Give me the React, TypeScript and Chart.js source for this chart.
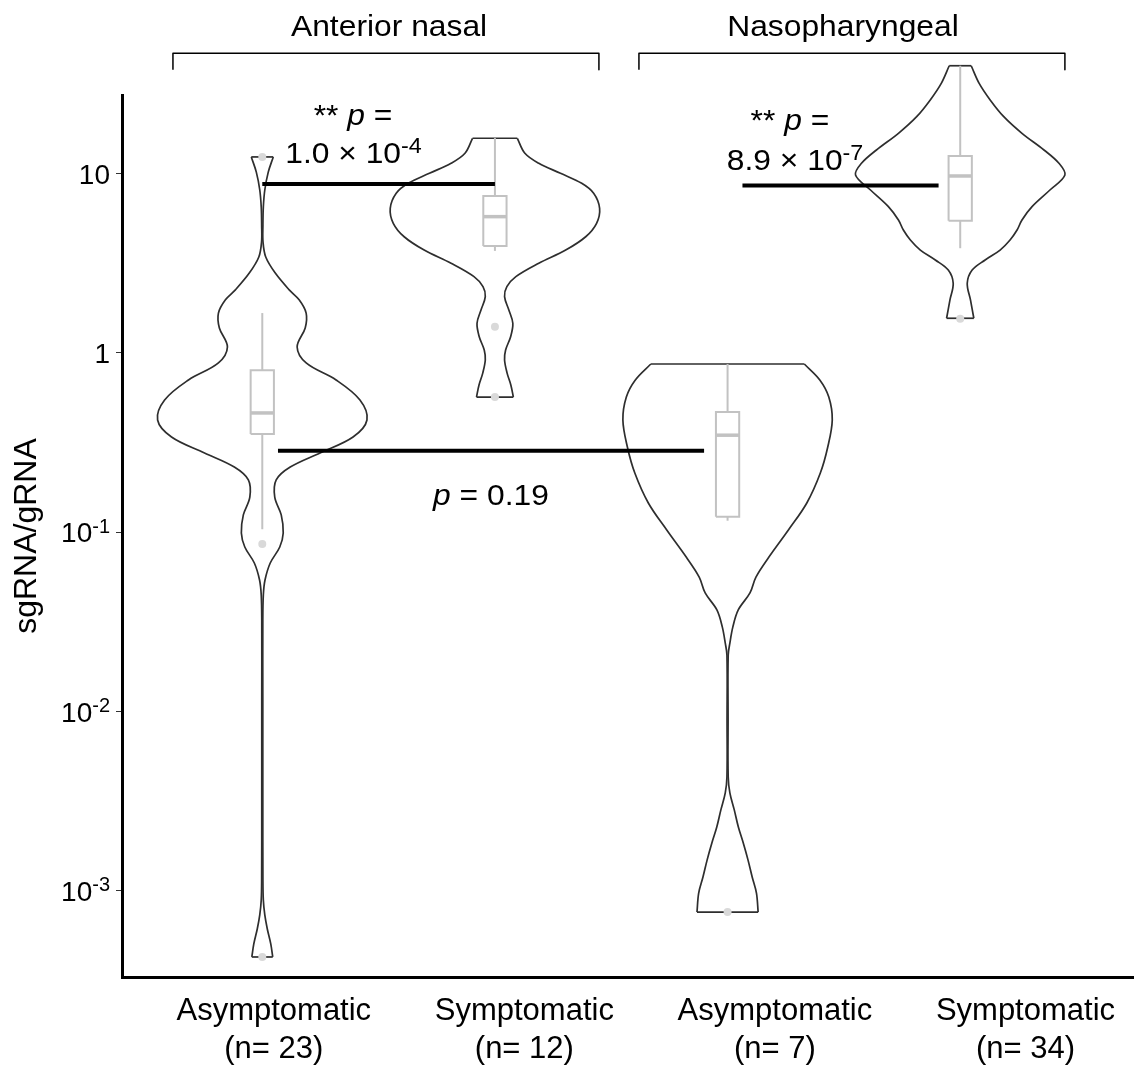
import React, { useEffect, useRef } from 'react';
import { Chart, registerables } from 'chart.js';

Chart.register(...registerables);

// ---------------- data ----------------
const groupCenters = [0, 1, 2, 3];
const groupTickLabels = [
  ['Asymptomatic', '(n= 23)'],
  ['Symptomatic', '(n= 12)'],
  ['Asymptomatic', '(n= 7)'],
  ['Symptomatic', '(n= 34)'],
];
const panelTitles = ['Anterior nasal', 'Nasopharyngeal'];
const yTitle = 'sgRNA/gRNA';

const yTickValues = [0.001, 0.01, 0.1, 1, 10];
const yTickBases = ['10', '10', '10', '1', '10'];
const yTickExponents = ['-3', '-2', '-1', '', ''];

// violin outlines: levels (sgRNA/gRNA) and relative density width (1 = widest)
const anAsymLevels = [12.4, 10.2, 8.11, 6.52, 5.17, 4.16, 3.43, 2.79, 2.25, 1.98, 1.67, 1.38, 1.08, 0.88, 0.707, 0.547, 0.423, 0.34, 0.277, 0.231, 0.196, 0.157, 0.125, 0.0991, 0.0828, 0.0674, 0.0542, 0.0447, 0.0324, 0.0116, 0.00321, 0.00115, 0.000889, 0.000734, 0.000613, 0.000506, 0.000428];
const anAsymDensity = [0.105, 0.057, 0.024, 0.01, 0.006, 0.007, 0.033, 0.124, 0.257, 0.352, 0.419, 0.41, 0.333, 0.419, 0.705, 0.933, 1.0, 0.867, 0.552, 0.267, 0.133, 0.119, 0.181, 0.2, 0.167, 0.076, 0.026, 0.01, 0.005, 0.005, 0.005, 0.006, 0.01, 0.024, 0.048, 0.081, 0.1];

const anSymLevels = [15.76, 13.0, 11.43, 10.05, 8.84, 7.78, 6.41, 5.29, 4.45, 3.75, 3.165, 2.665, 2.343, 2.061, 1.737, 1.464, 1.233, 1.039, 0.914, 0.77, 0.663, 0.568];
const anSymDensity = [0.214, 0.286, 0.419, 0.626, 0.829, 0.943, 1.0, 0.971, 0.867, 0.676, 0.419, 0.2, 0.114, 0.092, 0.133, 0.171, 0.15, 0.102, 0.092, 0.117, 0.152, 0.176];

const npAsymLevels = [0.868, 0.707, 0.568, 0.423, 0.299, 0.214, 0.1457, 0.103, 0.0728, 0.0563, 0.0459, 0.0369, 0.0296, 0.0241, 0.0207, 0.00898, 0.00432, 0.00352, 0.00283, 0.00227, 0.00185, 0.00149, 0.001196, 0.000973, 0.000762];
const npAsymDensity = [0.733, 0.881, 0.967, 1.0, 0.957, 0.886, 0.757, 0.581, 0.395, 0.271, 0.214, 0.102, 0.05, 0.022, 0.006, 0.005, 0.006, 0.022, 0.064, 0.103, 0.15, 0.195, 0.235, 0.276, 0.292];

const npSymLevels = [40.0, 31.9, 25.8, 20.8, 16.8, 13.56, 11.43, 9.83, 8.11, 6.55, 5.52, 4.85, 4.27, 3.75, 3.3, 2.9, 2.447, 1.976, 1.562];
const npSymDensity = [0.105, 0.181, 0.286, 0.416, 0.59, 0.8, 0.943, 1.0, 0.857, 0.686, 0.59, 0.543, 0.476, 0.381, 0.238, 0.114, 0.067, 0.098, 0.13];

// box plots
const boxLow = [0.104, 3.71, 0.116, 3.84];
const boxQ1 = [0.353, 3.95, 0.122, 5.47];
const boxMedian = [0.463, 5.76, 0.348, 9.71];
const boxQ3 = [0.8, 7.51, 0.469, 12.55];
const boxHigh = [1.67, 15.8, 0.868, 40.0];
const outlierGroup = [0, 0, 0, 1, 1, 2, 3];
const outlierValues = [12.4, 0.086, 0.000428, 1.4, 0.568, 0.000763, 1.55];

// comparison bars
const comparisonFrom = [0, 2.064, 0.0675];
const comparisonTo = [1, 2.907, 1.899];
const comparisonLevel = [8.76, 8.6, 0.285];

// panel brackets
const bracketFrom = [-0.384, 1.619];
const bracketTo = [1.447, 3.45];
const bracketTop = 47;
const bracketFoot = 38;

// annotation texts (x in group units, y = baseline level)
const annotationTexts = [
  { x: 0.39, y: 18.7, parts: [{ t: '** ' }, { t: 'p', it: true }, { t: ' =' }] },
  { x: 0.392, y: 11.47, parts: [{ t: '1.0 × 10' }, { t: '-4', sup: true }] },
  { x: 2.268, y: 17.5, parts: [{ t: '** ' }, { t: 'p', it: true }, { t: ' =' }] },
  { x: 2.29, y: 10.49, parts: [{ t: '8.9 × 10' }, { t: '-7', sup: true }] },
  { x: 0.983, y: 0.142, parts: [{ t: 'p', it: true }, { t: ' = 0.19' }] },
  { x: 0.545, y: 58.6, parts: [{ t: panelTitles[0] }] },
  { x: 2.496, y: 58.6, parts: [{ t: panelTitles[1] }] },
];

// ---------------- styles ----------------
const FAMILY = "'Liberation Sans', Arial, Helvetica, sans-serif";
const VIOLIN_HALF = 0.45;
const BOX_HALF = 0.05;
const VIOLIN_COLOR = '#2e2e2e';
const BOX_COLOR = '#c2c2c2';
const POINT_COLOR = '#d9d9d9';
const TEXT_SIZE = 30;
const TEXT_STRETCH = 1.06;
const TICK_SIZE = 28;

type Part = { t: string; it?: boolean; sup?: boolean };

function drawRich(ctx: CanvasRenderingContext2D, parts: Part[], px: number, baseline: number, size: number, stretch: number, align: 'center' | 'right') {
  const fontFor = (p: Part) => `${p.it ? 'italic ' : ''}${p.sup ? Math.round(size * 0.72) : size}px ${FAMILY}`;
  let total = 0;
  const widths = parts.map((p) => {
    ctx.font = fontFor(p);
    const w = ctx.measureText(p.t).width;
    total += w;
    return w;
  });
  ctx.save();
  ctx.translate(px, baseline);
  ctx.scale(stretch, 1);
  ctx.textAlign = 'left';
  ctx.textBaseline = 'alphabetic';
  ctx.fillStyle = '#000';
  let x = align === 'center' ? -total / 2 : -total;
  parts.forEach((p, i) => {
    ctx.font = fontFor(p);
    ctx.fillText(p.t, x, p.sup ? -size * 0.34 : 0);
    x += widths[i];
  });
  ctx.restore();
}

const annotationPlugin = {
  id: 'annotationText',
  afterDraw(chart: any) {
    const { ctx } = chart;
    const xs = chart.scales.x;
    const ys = chart.scales.y;
    yTickValues.forEach((v, i) => {
      const py = ys.getPixelForValue(v);
      const parts: Part[] = [{ t: yTickBases[i] }];
      if (yTickExponents[i]) parts.push({ t: yTickExponents[i], sup: true });
      drawRich(ctx, parts, chart.chartArea.left - 12, py + TICK_SIZE * 0.36, TICK_SIZE, 1, 'right');
    });
    annotationTexts.forEach((a) => {
      drawRich(ctx, a.parts, xs.getPixelForValue(a.x), ys.getPixelForValue(a.y), TEXT_SIZE, TEXT_STRETCH, 'center');
    });
  },
};

export default function App() {
  const ref = useRef<HTMLCanvasElement>(null);

  useEffect(() => {
    const canvas = ref.current;
    if (!canvas) return;
    const datasets: any[] = [];
    const common = {
      type: 'line',
      xAxisID: 'x',
      yAxisID: 'y',
      pointRadius: 0,
      pointHoverRadius: 0,
      fill: false,
      clip: false,
      tension: 0,
    };

    comparisonLevel.forEach((lvl, i) => {
      datasets.push({ ...common, data: [{ x: comparisonFrom[i], y: lvl }, { x: comparisonTo[i], y: lvl }], borderColor: '#000', borderWidth: 4 });
    });

    bracketFrom.forEach((x0, i) => {
      datasets.push({
        ...common,
        data: [
          { x: x0, y: bracketFoot },
          { x: x0, y: bracketTop },
          { x: bracketTo[i], y: bracketTop },
          { x: bracketTo[i], y: bracketFoot },
        ],
        borderColor: '#000',
        borderWidth: 1.5,
        borderJoinStyle: 'round',
      });
    });

    datasets.push({
      ...common,
      showLine: false,
      data: outlierValues.map((v, i) => ({ x: outlierGroup[i], y: v })),
      pointRadius: 4,
      pointBackgroundColor: POINT_COLOR,
      pointBorderWidth: 0,
      pointBorderColor: POINT_COLOR,
    });

    groupCenters.forEach((c, i) => {
      const w = BOX_HALF;
      datasets.push({
        ...common,
        data: [
          { x: c - w, y: boxQ1[i] },
          { x: c + w, y: boxQ1[i] },
          { x: c + w, y: boxQ3[i] },
          { x: c - w, y: boxQ3[i] },
          { x: c - w, y: boxQ1[i] },
        ],
        borderColor: BOX_COLOR,
        borderWidth: 2,
      });
      datasets.push({ ...common, data: [{ x: c - w, y: boxMedian[i] }, { x: c + w, y: boxMedian[i] }], borderColor: BOX_COLOR, borderWidth: 3.5 });
      datasets.push({ ...common, data: [{ x: c, y: boxQ3[i] }, { x: c, y: boxHigh[i] }], borderColor: BOX_COLOR, borderWidth: 2 });
      datasets.push({ ...common, data: [{ x: c, y: boxLow[i] }, { x: c, y: boxQ1[i] }], borderColor: BOX_COLOR, borderWidth: 2 });
    });

    const violinLevels = [anAsymLevels, anSymLevels, npAsymLevels, npSymLevels];
    const violinDensity = [anAsymDensity, anSymDensity, npAsymDensity, npSymDensity];
    violinLevels.forEach((levels, i) => {
      const dens = violinDensity[i];
      const c = groupCenters[i];
      const side = (sgn: number) => levels.map((v, k) => ({ x: c + sgn * VIOLIN_HALF * dens[k], y: v }));
      const sideStyle = { ...common, indexAxis: 'y', tension: 0.35, borderColor: VIOLIN_COLOR, borderWidth: 1.7 };
      datasets.push({ ...sideStyle, data: side(1) });
      datasets.push({ ...sideStyle, data: side(-1) });
      const n = levels.length - 1;
      datasets.push({ ...common, data: [{ x: c - VIOLIN_HALF * dens[0], y: levels[0] }, { x: c + VIOLIN_HALF * dens[0], y: levels[0] }], borderColor: VIOLIN_COLOR, borderWidth: 1.7 });
      datasets.push({ ...common, data: [{ x: c - VIOLIN_HALF * dens[n], y: levels[n] }, { x: c + VIOLIN_HALF * dens[n], y: levels[n] }], borderColor: VIOLIN_COLOR, borderWidth: 1.7 });
    });

    const chart = new Chart(canvas, {
      type: 'line',
      data: { datasets },
      options: {
        responsive: false,
        animation: false,
        events: [],
        layout: { autoPadding: false, padding: { top: 95, left: 0, right: 0, bottom: 0 } },
        elements: { line: { capBezierPoints: false } },
        plugins: { legend: { display: false }, tooltip: { enabled: false } },
        scales: {
          x: { type: 'linear', min: -0.603, max: 3.747, display: false },
          xl: {
            type: 'linear',
            position: 'bottom',
            min: -0.6058,
            max: 3.4332,
            bounds: 'data',
            afterBuildTicks: (s: any) => {
              s.ticks = groupCenters.map((v) => ({ value: v }));
            },
            afterFit: (s: any) => {
              s.height = 89;
              s.paddingLeft = 0;
              s.paddingRight = 0;
            },
            ticks: {
              callback: (_v: any, idx: number) => groupTickLabels[idx],
              font: { family: FAMILY, size: 31, lineHeight: 1.24 },
              color: '#000',
              padding: 15,
              maxRotation: 0,
              autoSkip: false,
            },
            grid: { display: false, drawTicks: false },
            border: { display: true, color: '#000', width: 3 },
          },
          y: {
            type: 'logarithmic',
            position: 'left',
            min: 3.31e-4,
            max: 27.47,
            bounds: 'data',
            afterBuildTicks: (s: any) => {
              s.ticks = yTickValues.map((v) => ({ value: v }));
            },
            afterFit: (s: any) => {
              s.width = 122;
              s.paddingTop = 0;
              s.paddingBottom = 0;
            },
            ticks: { display: false },
            grid: { display: true, drawOnChartArea: false, drawTicks: true, tickLength: 6, color: '#333', lineWidth: 1 },
            border: { display: true, color: '#000', width: 3 },
            title: {
              display: true,
              text: yTitle,
              color: '#000',
              font: { family: FAMILY, size: 32 },
              padding: { top: 8, bottom: 0 },
            },
          },
        },
      } as any,
      plugins: [annotationPlugin],
    } as any);

    return () => chart.destroy();
  }, []);

  return (
    <div style={{ position: 'absolute', left: 0, top: 0, width: 1134, height: 1066, background: '#fff' }}>
      <canvas ref={ref} width={1134} height={1066} style={{ display: 'block' }} />
    </div>
  );
}
